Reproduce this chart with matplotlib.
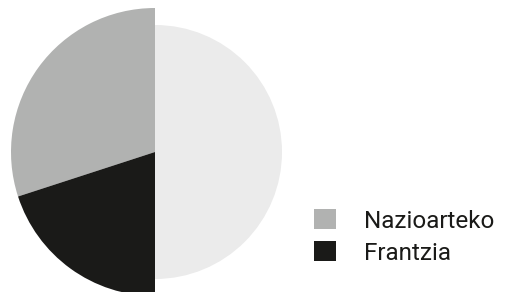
import matplotlib
matplotlib.use('Agg')
import matplotlib.pyplot as plt

# Data
labels = ['Nazioarteko', 'Frantzia', 'Beste']
values = [30, 20, 50]
colors = ['#b1b2b1', '#1a1a18', '#ebebeb']
legend_labels = ['Nazioarteko', 'Frantzia']

plt.rcParams['font.family'] = ['Roboto', 'DejaVu Sans']

fig = plt.figure(figsize=(5.07, 2.92), dpi=100)
W, H = 507, 292
# square axes centred on the pie
ax = fig.add_axes([11 / W, -4 / H, 288 / W, 288 / H])
wedges, _ = ax.pie(values, colors=colors, startangle=90, counterclock=True,
                   radius=1.0, wedgeprops=dict(linewidth=0))
# the right half is drawn with a smaller radius
wedges[2].set_radius(0.882)
ax.set_xlim(-1, 1)
ax.set_ylim(-1, 1)
ax.set_aspect('equal')
ax.axis('off')

fs = 17.5
em = fs * 100 / 72
fig.legend(handles=wedges[:2], labels=legend_labels, loc='upper left',
           bbox_to_anchor=(314 / W, 1 - 209 / H), frameon=False,
           fontsize=fs, handlelength=22 / em, handleheight=22 / em,
           handletextpad=28 / em, labelspacing=0.35, borderpad=0,
           borderaxespad=0, labelcolor='#1a1a18')

fig.savefig('out.png', dpi=100)
